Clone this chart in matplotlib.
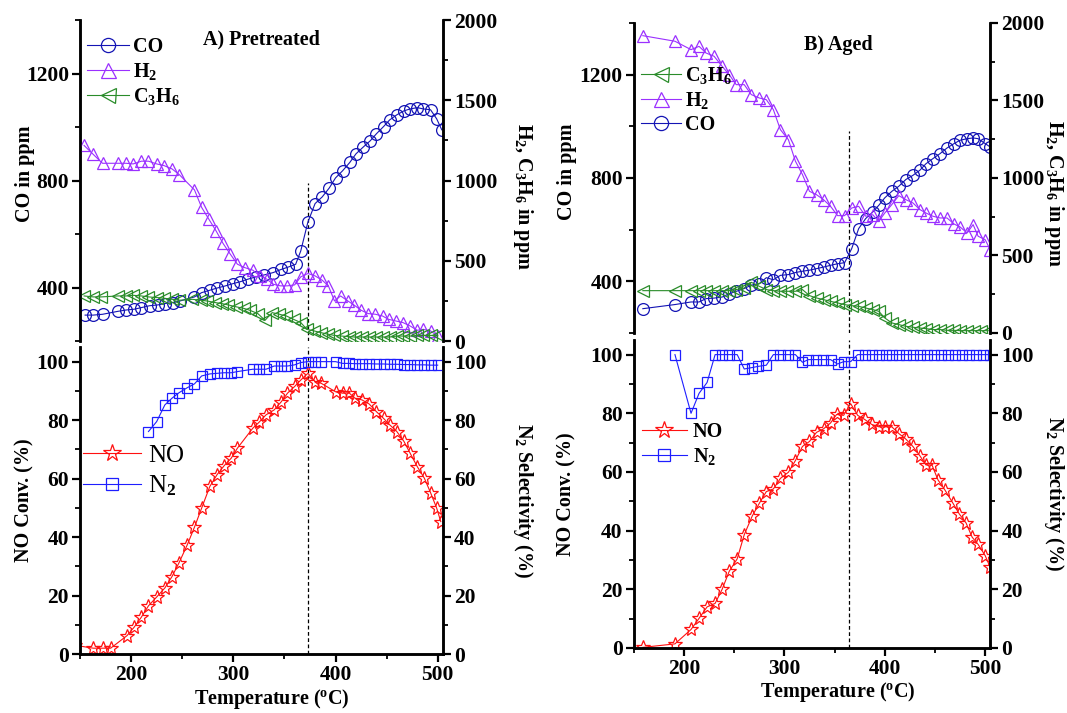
import matplotlib
matplotlib.use("Agg")
import matplotlib.pyplot as plt
from matplotlib.ticker import MultipleLocator

plt.rcParams['font.family'] = ['Liberation Serif', 'DejaVu Serif']
plt.rcParams['font.weight'] = 'bold'
plt.rcParams['axes.labelweight'] = 'bold'
plt.rcParams['mathtext.fontset'] = 'custom'
plt.rcParams['mathtext.rm'] = 'Liberation Serif:bold'
plt.rcParams['mathtext.it'] = 'Liberation Serif:bold'
plt.rcParams['mathtext.bf'] = 'Liberation Serif:bold'

# ---- A) Pretreated : gas concentrations ----
a_co_t = [155, 163, 172, 187, 195, 203, 210, 218, 226, 233, 241, 248, 262, 269, 277, 284,
          292, 300, 307, 314, 322, 330, 339, 347, 354, 361, 366, 373, 380, 387, 394, 400,
          407, 414, 420, 427, 434, 440, 447, 453, 460, 467, 473, 480, 486, 493, 499, 504]
a_co = [297, 297, 300, 311, 316, 319, 325, 332, 335, 340, 344, 350, 365, 381, 390, 398,
        406, 415, 422, 431, 440, 447, 456, 468, 477, 487, 537, 645, 714, 739, 773, 810,
        837, 868, 900, 925, 949, 975, 1002, 1027, 1046, 1061, 1068, 1073, 1068, 1065, 1031, 990]

a_h2_t = [154, 163, 172, 187, 195, 202, 210, 217, 225, 232, 240, 247, 262, 269, 276, 283,
          290, 297, 304, 311, 319, 326, 333, 339, 346, 353, 360, 366, 373, 380, 387, 393,
          399, 405, 412, 418, 425, 432, 439, 446, 452, 459, 466, 473, 480, 486, 493, 500]
a_h2 = [1219, 1163, 1108, 1108, 1108, 1104, 1121, 1121, 1104, 1094, 1073, 1038, 942, 833, 760, 688,
        608, 542, 479, 458, 442, 406, 385, 354, 344, 344, 350, 400, 421, 406, 379, 344,
        250, 281, 250, 225, 192, 171, 167, 156, 135, 125, 115, 94, 67, 73, 63, 31]

a_c3h6_t = [154, 163, 171, 187, 195, 202, 210, 217, 225, 232, 240, 247, 260, 268, 274, 282,
            289, 295, 303, 310, 316, 324, 331, 338, 345, 352, 359, 366, 372, 379, 386, 393,
            399, 406, 413, 419, 426, 433, 440, 446, 453, 460, 466, 473, 480, 486, 493, 500]
a_c3h6 = [281, 275, 275, 281, 281, 285, 281, 275, 271, 267, 260, 254, 260, 254, 250, 240,
          233, 225, 213, 204, 192, 171, 129, 177, 167, 156, 135, 115, 73, 63, 52, 42,
          35, 31, 27, 25, 25, 25, 25, 25, 25, 31, 31, 31, 35, 35, 35, 35]

# ---- A) Pretreated : NO conversion / N2 selectivity ----
a_no_t = [145, 163, 172, 180, 196, 203, 210, 217, 225, 233, 240, 247, 255, 262, 269, 277,
          284, 291, 298, 304, 319, 325, 332, 340, 347, 353, 360, 366, 373, 380, 386, 400,
          407, 413, 419, 426, 433, 440, 447, 453, 460, 467, 473, 480, 487, 493, 499, 503]
a_no = [3, 2, 2, 2, 6.3, 9.2, 12.6, 16.5, 19.5, 22.6, 26.5, 31.3, 37.4, 43.4, 49.9, 57.3,
        61.3, 64.4, 67, 70.4, 77.2, 79.2, 81.8, 83.5, 86.3, 89.2, 91.5, 93.7, 96, 93.2, 92.6, 89.7,
        89.2, 89.4, 87.5, 86.9, 85.5, 82.9, 80.6, 78.4, 76.1, 72.7, 68.7, 64.1, 60.1, 55.2, 49.9, 45.3]

a_n2_t = [217, 225, 233, 240, 247, 255, 262, 269, 277, 284, 291, 298, 304, 319, 325, 332,
          340, 347, 353, 360, 366, 373, 380, 386, 400, 407, 413, 419, 426, 433, 440, 447,
          453, 460, 467, 473, 480, 487, 493, 500]
a_n2 = [76.1, 79.5, 85.2, 87.5, 89.4, 91.1, 92.4, 95.1, 95.8, 96, 96.2, 96.2, 96.6, 97.4, 97.4, 97.4,
        98.5, 98.5, 98.5, 98.9, 99.7, 100, 100, 100, 100, 99.4, 99.4, 99.3, 99.3, 99.3, 99.2, 99.2,
        99.1, 99.1, 99.0, 99.0, 98.9, 98.9, 98.8, 98.8]

# ---- B) Aged : gas concentrations ----
b_t = [159, 191, 207, 215, 222, 230, 238, 245, 252, 260, 267, 275, 282, 289, 296, 304,
       311, 318, 325, 332, 339, 346, 353, 360, 367, 374, 381, 388, 394, 400, 407, 414,
       421, 428, 435, 441, 448, 455, 462, 469, 475, 482, 488, 493, 500, 505]
b_h2 = [1918, 1882, 1828, 1849, 1806, 1785, 1720, 1667, 1602, 1602, 1538, 1516, 1505, 1441, 1312, 1247,
        1108, 1022, 914, 892, 860, 817, 757, 757, 806, 817, 753, 763, 720, 774, 828, 886,
        860, 839, 796, 774, 753, 742, 742, 703, 684, 645, 699, 624, 602, 538]
b_co = [294, 310, 320, 320, 333, 335, 339, 352, 361, 372, 385, 391, 414, 406, 423, 426,
        434, 439, 443, 449, 455, 462, 468, 472, 526, 604, 643, 668, 694, 723, 748, 768,
        794, 810, 830, 855, 875, 894, 916, 933, 946, 952, 955, 952, 933, 920]

b_c3h6_t = [159, 191, 207, 215, 222, 230, 238, 245, 252, 260, 267, 275, 282, 289, 296, 303,
            311, 318, 325, 332, 339, 346, 353, 360, 367, 374, 381, 388, 394, 400, 407, 414,
            421, 428, 435, 441, 448, 455, 462, 469, 475, 482, 489, 496, 503]
b_c3h6 = [273, 273, 273, 273, 273, 273, 273, 273, 280, 290, 327, 301, 280, 273, 269, 269,
          269, 280, 241, 226, 215, 204, 194, 183, 176, 172, 161, 151, 140, 97, 65, 54,
          43, 37, 32, 28, 22, 22, 17, 17, 15, 15, 15, 15, 15]

# ---- B) Aged : NO conversion / N2 selectivity ----
b_no_t = [159, 191, 207, 215, 223, 231, 238, 245, 253, 260, 268, 275, 282, 289, 296, 304,
          311, 318, 325, 332, 339, 346, 352, 359, 366, 373, 380, 387, 394, 400, 407, 414,
          421, 428, 435, 441, 447, 453, 460, 468, 474, 481, 487, 493, 500, 505]
b_no = [0.2, 1.4, 6.3, 10.1, 14, 15.2, 20, 26.1, 30.4, 38.6, 45, 49.3, 53.3, 54.2, 57.8, 59.9,
        63.9, 68.7, 70.4, 73.5, 74.7, 76.7, 79.6, 79.3, 83.3, 79.3, 77.9, 76.2, 75.4, 75.4, 75.4, 73.1,
        71.2, 68.7, 65.5, 62.4, 62.4, 57.3, 53.8, 49.3, 45.8, 42.6, 37.8, 35.3, 31.5, 27.5]

b_n2_t = [191, 207, 215, 223, 231, 238, 245, 253, 260, 268, 274, 282, 289, 296, 304, 311,
          318, 324, 331, 338, 346, 353, 359, 366, 373, 380, 387, 394, 401, 407, 414, 421,
          428, 435, 442, 449, 456, 463, 470, 477, 484, 491, 498, 505]
b_n2 = [100, 80, 86.8, 90.5, 100, 100, 100, 100, 95.1, 95.6, 96, 96.4, 100, 100, 100, 100,
        97.4, 98.3, 98.3, 98.3, 98.3, 96.8, 97.6, 97.6, 100, 100, 100, 100, 100, 100, 100, 100,
        100, 100, 100, 100, 100, 100, 100, 100, 100, 100, 100, 100]

C_CO = '#1414b4'
C_H2 = '#9b30ff'
C_C3H6 = '#2a8c2a'
C_NO = '#ff1010'
C_N2 = '#1e1eff'

FS = 15.5    # tick labels
LFS = 14.5   # axis labels
XLIM = (150, 505)


def style_axis(ax):
    for s in ax.spines.values():
        s.set_linewidth(1.8)
    ax.tick_params(axis='both', which='major', direction='out', length=6, width=1.6, labelsize=FS, pad=2)
    ax.tick_params(axis='both', which='minor', direction='out', length=3.5, width=1.3)


def top_panel(rect, title, title_xy, dash_x, dash_top, lx, rx):
    ax = fig.add_axes(rect)
    ax2 = ax.twinx()
    for a in (ax, ax2):
        a.spines['top'].set_visible(False)
        a.spines['bottom'].set_visible(False)
        style_axis(a)
    ax.set_xlim(*XLIM)
    ax.set_ylim(200, 1400)
    ax2.set_ylim(0, 2000)
    ax.xaxis.set_visible(False)
    ax.yaxis.set_major_locator(MultipleLocator(400))
    ax.yaxis.set_minor_locator(MultipleLocator(200))
    ax2.yaxis.set_major_locator(MultipleLocator(500))
    ax2.yaxis.set_minor_locator(MultipleLocator(250))
    ax.set_ylabel('CO in ppm', fontsize=LFS)
    ax.yaxis.set_label_coords(lx, 0.52)
    ax2.set_ylabel('H$_2$, C$_3$H$_6$ in ppm', fontsize=LFS, rotation=-90)
    ax2.yaxis.set_label_coords(rx, 0.45)
    ax.text(title_xy[0], title_xy[1], title, transform=ax.transAxes, ha='center', va='center',
            fontsize=LFS)
    ax.plot([dash_x, dash_x], [200, dash_top], ls='--', color='black', lw=0.9, dashes=(3, 2))
    return ax, ax2


def bottom_panel(rect, dash_x, xlab_x, lx, rx):
    ax = fig.add_axes(rect)
    ax2 = ax.twinx()
    for a in (ax, ax2):
        a.spines['top'].set_visible(False)
        style_axis(a)
    ax.set_xlim(*XLIM)
    ax.set_ylim(0, 105)
    ax2.set_ylim(0, 105)
    ax.xaxis.set_major_locator(MultipleLocator(100))
    ax.xaxis.set_minor_locator(MultipleLocator(50))
    for a in (ax, ax2):
        a.yaxis.set_major_locator(MultipleLocator(20))
        a.yaxis.set_minor_locator(MultipleLocator(10))
    ax.set_ylabel('NO Conv. (%)', fontsize=LFS)
    ax.yaxis.set_label_coords(lx, 0.5)
    ax2.set_ylabel('N$_2$ Selectivity (%)', fontsize=LFS, rotation=-90)
    ax2.yaxis.set_label_coords(rx, 0.5)
    ax.set_xlabel('Temperature ($^{o}$C)', fontsize=LFS, labelpad=1, x=xlab_x)
    ax.axvline(dash_x, ls='--', color='black', lw=0.9, dashes=(3, 2))
    return ax, ax2


fig = plt.figure(figsize=(10.67, 7.13), dpi=100)

mk = dict(mfc='none', mew=0.9, lw=0.8)

# ---------------- Panel A ----------------
axA, axA2 = top_panel([0.075, 0.5217, 0.340, 0.450], 'A) Pretreated', (0.50, 0.94), 373, 790,
                      -0.125, 1.255)
l1, = axA.plot(a_co_t, a_co, marker='o', ms=8.5, color=C_CO, label='CO', **mk)
l2, = axA2.plot(a_h2_t, a_h2, marker='^', ms=9, color=C_H2, label='H$_2$', **mk)
l3, = axA2.plot(a_c3h6_t, a_c3h6, marker='<', ms=9, color=C_C3H6, label='C$_3$H$_6$', **mk)
axA2.legend(handles=[l1, l2, l3], loc='upper left', bbox_to_anchor=(-0.015, 0.985), frameon=False,
            fontsize=LFS, handlelength=2.1, handletextpad=0.2, labelspacing=0.2, borderaxespad=0.2,
            markerscale=1.2)

axAb, axAb2 = bottom_panel([0.075, 0.0827, 0.340, 0.4306], 373, 0.53, -0.125, 1.255)
l4, = axAb.plot(a_no_t, a_no, marker='*', ms=10, color=C_NO, label='NO', **mk)
l5, = axAb2.plot(a_n2_t, a_n2, marker='s', ms=7, color=C_N2, label='N$_2$', **mk)
axAb2.legend(handles=[l4, l5], loc='center left', bbox_to_anchor=(-0.025, 0.595), frameon=False,
             prop={'size': FS + 2.5, 'weight': 'normal'}, handlelength=2.3, handletextpad=0.3,
             labelspacing=0.25, borderaxespad=0.1, markerscale=1.3)

# ---------------- Panel B ----------------
axB, axB2 = top_panel([0.594, 0.533, 0.334, 0.4348], 'B) Aged', (0.573, 0.93), 364, 980,
                      -0.16, 1.213)
m1, = axB2.plot(b_c3h6_t, b_c3h6, marker='<', ms=9, color=C_C3H6, label='C$_3$H$_6$', **mk)
m2, = axB2.plot(b_t, b_h2, marker='^', ms=9, color=C_H2, label='H$_2$', **mk)
m3, = axB.plot(b_t, b_co, marker='o', ms=8.5, color=C_CO, label='CO', **mk)
axB2.legend(handles=[m1, m2, m3], loc='center left', bbox_to_anchor=(-0.015, 0.75), frameon=False,
            fontsize=LFS, handlelength=2.0, handletextpad=0.2, labelspacing=0.2, borderaxespad=0.2,
            markerscale=1.2)

axBb, axBb2 = bottom_panel([0.594, 0.0912, 0.334, 0.432], 364, 0.573, -0.16, 1.213)
n1, = axBb.plot(b_no_t, b_no, marker='*', ms=10, color=C_NO, label='NO', **mk)
n2, = axBb2.plot(b_n2_t, b_n2, marker='s', ms=7, color=C_N2, label='N$_2$', **mk)
axBb2.legend(handles=[n1, n2], loc='center left', bbox_to_anchor=(-0.01, 0.66), frameon=False,
             fontsize=LFS, handlelength=2.2, handletextpad=0.3, labelspacing=0.2, borderaxespad=0.2,
             markerscale=1.3)

fig.savefig('out.png', dpi=100)
